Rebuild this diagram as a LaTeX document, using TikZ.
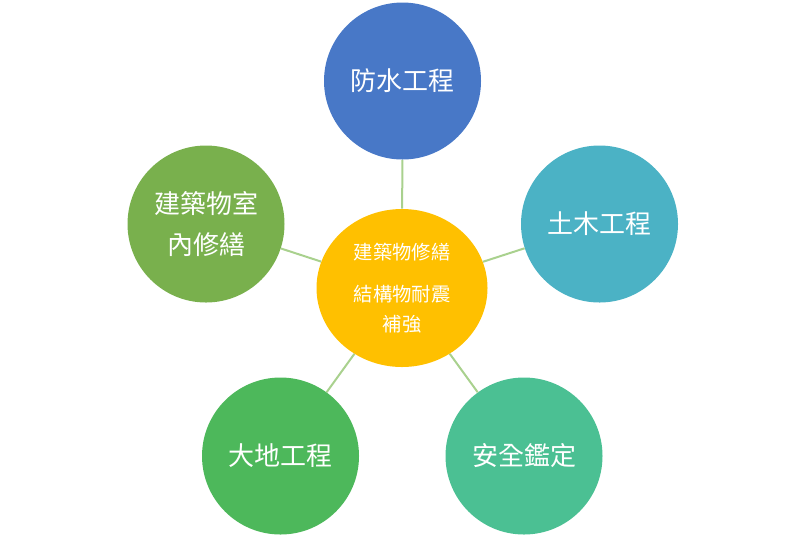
\documentclass[tikz,border=0pt]{standalone}
\usepackage{fontspec}
\newfontfamily\cjk{Noto Sans CJK TC}
\usetikzlibrary{shapes.geometric}
\definecolor{hubyellow}{HTML}{FFC000}
\definecolor{petalblue}{HTML}{4878C7}
\definecolor{petalcyan}{HTML}{4BB2C5}
\definecolor{petalteal}{HTML}{4BC093}
\definecolor{petalgreen}{HTML}{4DB85B}
\definecolor{petalolive}{HTML}{79B04D}
\definecolor{spokegreen}{HTML}{A9D18E}

\begin{document}
\begin{tikzpicture}[x=0.75pt,y=-0.75pt,
 petal/.style={circle,minimum size=117.75pt,inner sep=0pt,text=white,
  font=\cjk\fontsize{19.5}{31}\selectfont,align=center},
 hub/.style={ellipse,fill=hubyellow,minimum width=128.25pt,minimum height=118.5pt,
  inner sep=0pt,text=white,font=\cjk\fontsize{14.5}{22.5}\selectfont,align=center},
 spoke/.style={draw=spokegreen,line width=1.5pt}]
 \useasboundingbox (0,0) rectangle (805,537);
 \node[hub] (repair) at (402,288) {建築物修繕\\[9pt]結構物耐震\\補強};
 \node[petal,fill=petalblue] (water) at (402.5,81) {防水工程};
 \node[petal,fill=petalcyan] (civil) at (599.5,224) {土木工程};
 \node[petal,fill=petalteal] (safety) at (524,456) {安全鑑定};
 \node[petal,fill=petalgreen] (geo) at (280.5,456) {大地工程};
 \node[petal,fill=petalolive] (indoor) at (206,224) {建築物室\\內修繕};
 \draw[spoke] (repair) -- (water);
 \draw[spoke] (repair) -- (civil);
 \draw[spoke] (repair) -- (safety);
 \draw[spoke] (repair) -- (geo);
 \draw[spoke] (repair) -- (indoor);
\end{tikzpicture}
\end{document}
